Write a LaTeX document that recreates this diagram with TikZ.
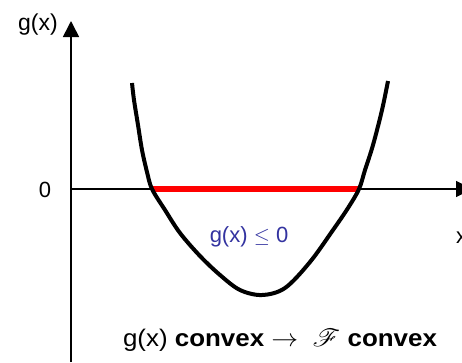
\documentclass[tikz,border=0pt]{standalone}
\usepackage{fontspec}
\setmainfont{Liberation Sans}
\usepackage{mathrsfs}
\usetikzlibrary{arrows.meta}
\definecolor{labelblue}{RGB}{51,51,160}
\definecolor{setred}{RGB}{255,0,0}
\tikzset{
  axis/.style={line width=1.6pt, -{Triangle[width=16pt,length=16pt]}},
  curve/.style={line width=4pt, line join=round},
  feasible/.style={line width=6.5pt, draw=setred},
  lbl/.style={font=\fontsize{22}{24}\selectfont, inner sep=0pt},
  biglbl/.style={font=\fontsize{24}{26}\selectfont, inner sep=0pt, xscale=1.08},
}
\begin{document}
\begin{tikzpicture}[x=1pt,y=-1pt]
\useasboundingbox (0,0) rectangle (462,362);
\coordinate (o) at (71,189);
\coordinate (ytop) at (71,21);
\coordinate (ybot) at (71,362);
\coordinate (xend) at (472,189);
\draw[axis] (ybot) -- (ytop);
\draw[axis] (o) -- (xend);
\node[lbl, anchor=east, font=\fontsize{23}{25}\selectfont] (gl) at (58,25) {g(x)};
\node[lbl, anchor=west] (xl) at (456,238) {x};
\node[lbl] (zero) at (45,190) {0};
\coordinate (a) at (152,189);
\coordinate (b) at (359,189);
\draw[feasible] (a) -- (b);
\draw[curve] plot[smooth, tension=0.55] coordinates {
  (132,83) (134,100) (138,125) (142,150) (147,172) (152,189)
  (165,210) (180,233) (200,256) (220,275) (240,290) (262,295)
  (285,288) (310,262) (333,230) (348,208) (359,189)
  (365,170) (373,145) (382,110) (388,81)};
\node[lbl, text=labelblue] (cond) at (249,237) {g(x) $\leq$ 0};
\node[biglbl] (concl) at (280,340) {g(x) \textbf{convex} $\rightarrow$\ \ $\mathscr{F}$ \textbf{convex}};
\end{tikzpicture}
\end{document}
